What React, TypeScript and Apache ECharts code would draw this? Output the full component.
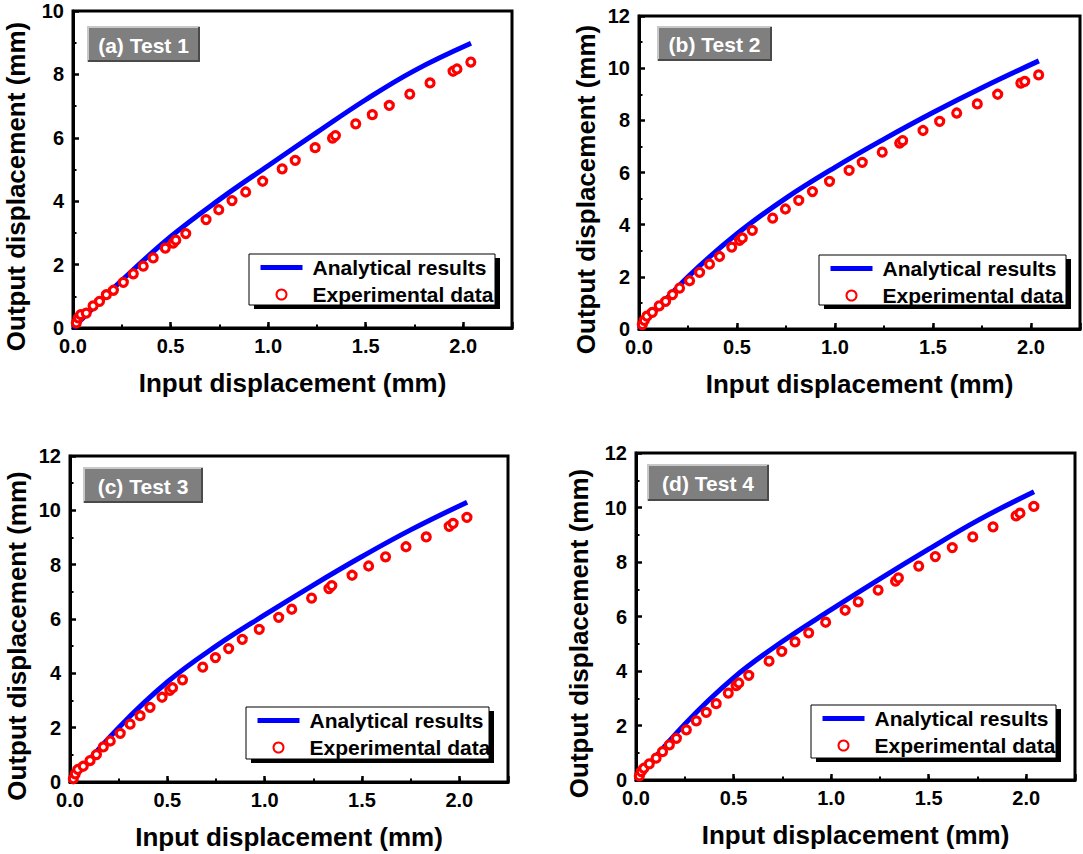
import React, { useEffect, useRef } from 'react';
import * as echarts from 'echarts';

// Input displacement of the experimental points (mm), shared by the four tests
const inputDisp = [0.017, 0.027, 0.04, 0.068, 0.103, 0.136, 0.171, 0.207, 0.258, 0.309, 0.36, 0.411, 0.473, 0.513, 0.527, 0.578, 0.682, 0.747, 0.815, 0.885, 0.972, 1.072, 1.139, 1.241, 1.33, 1.345, 1.449, 1.534, 1.621, 1.726, 1.83, 1.948, 1.968, 2.039];

// Experimental output displacement (mm)
const expTest1 = [0.16, 0.32, 0.42, 0.47, 0.70, 0.84, 1.05, 1.19, 1.44, 1.71, 1.95, 2.21, 2.52, 2.68, 2.77, 2.98, 3.42, 3.73, 4.02, 4.29, 4.63, 5.02, 5.29, 5.69, 5.99, 6.07, 6.44, 6.73, 7.02, 7.38, 7.73, 8.10, 8.17, 8.39];
const expTest2 = [0.17, 0.33, 0.49, 0.64, 0.89, 1.06, 1.32, 1.57, 1.85, 2.17, 2.49, 2.78, 3.14, 3.40, 3.49, 3.78, 4.25, 4.60, 4.93, 5.27, 5.66, 6.08, 6.39, 6.78, 7.13, 7.22, 7.61, 7.96, 8.28, 8.63, 9.00, 9.43, 9.49, 9.74];
const expTest3 = [0.12, 0.30, 0.46, 0.58, 0.79, 1.01, 1.29, 1.51, 1.79, 2.13, 2.44, 2.75, 3.12, 3.37, 3.47, 3.76, 4.23, 4.58, 4.91, 5.25, 5.62, 6.06, 6.36, 6.77, 7.12, 7.23, 7.61, 7.95, 8.29, 8.66, 9.02, 9.41, 9.52, 9.74];
const expTest4 = [0.15, 0.31, 0.43, 0.59, 0.80, 1.04, 1.29, 1.53, 1.84, 2.17, 2.48, 2.80, 3.19, 3.46, 3.56, 3.84, 4.36, 4.72, 5.07, 5.40, 5.79, 6.23, 6.54, 6.97, 7.30, 7.42, 7.85, 8.20, 8.53, 8.92, 9.29, 9.69, 9.79, 10.04];

// Analytical curve (mm)
const modelX = [0, 0.25, 0.5, 0.75, 1.0, 1.25, 1.5, 1.75, 2.04];
const modelTest1 = [0, 1.5, 2.88, 4.05, 5.12, 6.17, 7.2, 8.12, 8.98];
const modelTest2 = [0, 2.0, 3.65, 5.02, 6.2, 7.28, 8.3, 9.25, 10.28];
const modelTest3 = [0, 2.0, 3.68, 5.0, 6.15, 7.25, 8.3, 9.28, 10.3];
const modelTest4 = [0, 2.05, 3.75, 5.08, 6.25, 7.38, 8.47, 9.52, 10.58];

const panelTitles = ['(a) Test 1', '(b) Test 2', '(c) Test 3', '(d) Test 4'];
const yMaxes = [10, 12, 12, 12];
const xMax = 2.25;
const seriesNames = ['Analytical results', 'Experimental data'];
const xName = 'Input displacement (mm)';
const yName = 'Output displacement (mm)';

const expSets = [expTest1, expTest2, expTest3, expTest4];
const modelSets = [modelTest1, modelTest2, modelTest3, modelTest4];

const FONT = '"Liberation Sans", Arial, Helvetica, sans-serif';

// layout (pixels)
const grids = [
  { left: 73, top: 11, width: 439, height: 317, yNameGap: 44 },
  { left: 639, top: 16, width: 442, height: 313, yNameGap: 40 },
  { left: 70, top: 456, width: 438, height: 326, yNameGap: 40 },
  { left: 636, top: 453, width: 439, height: 327, yNameGap: 44 },
];
const labelBoxes = [
  { x: 87, y: 26, w: 113, h: 36 },
  { x: 657, y: 26, w: 115, h: 35 },
  { x: 83, y: 467, w: 120, h: 36 },
  { x: 647, y: 464, w: 122, h: 37 },
];
const legendBoxes = [
  { x: 249, y: 254, w: 246, h: 51 },
  { x: 819, y: 255, w: 247, h: 50 },
  { x: 246, y: 707, w: 243, h: 52 },
  { x: 811, y: 705, w: 245, h: 53 },
];

function buildOption() {
  const xAxis: any[] = [];
  const yAxis: any[] = [];
  const series: any[] = [];
  const legend: any[] = [];
  const graphic: any[] = [];

  grids.forEach((g, i) => {
    xAxis.push({
      gridIndex: i,
      type: 'value',
      min: 0,
      max: xMax,
      interval: 0.5,
      name: xName,
      nameLocation: 'middle',
      nameGap: 42,
      nameTextStyle: { fontSize: 26, fontWeight: 'bold', color: '#000', fontFamily: FONT },
      axisLine: { show: true, lineStyle: { color: '#000', width: 3 } },
      axisTick: { show: true, inside: true, length: 6, lineStyle: { color: '#000', width: 2.5 } },
      axisLabel: {
        fontSize: 20, fontWeight: 'bold', color: '#000', fontFamily: FONT, margin: 8,
        formatter: (v: number) => (Math.abs(v * 2 - Math.round(v * 2)) < 1e-6 ? v.toFixed(1) : ''),
      },
      splitLine: { show: false },
    });
    xAxis.push({
      gridIndex: i,
      type: 'value',
      position: 'bottom',
      min: 0,
      max: xMax,
      interval: 0.25,
      axisLine: { show: false },
      axisTick: { show: true, inside: true, length: 3.5, lineStyle: { color: '#000', width: 2 } },
      axisLabel: { show: false },
      splitLine: { show: false },
    });
    yAxis.push({
      gridIndex: i,
      type: 'value',
      min: 0,
      max: yMaxes[i],
      interval: 2,
      name: yName,
      nameLocation: 'middle',
      nameGap: g.yNameGap,
      nameTextStyle: { fontSize: 26, fontWeight: 'bold', color: '#000', fontFamily: FONT, padding: [0, 34, 0, 0] },
      axisLine: { show: true, lineStyle: { color: '#000', width: 3 } },
      axisTick: { show: true, inside: true, length: 6, lineStyle: { color: '#000', width: 2.5 } },
      minorTick: { show: true, splitNumber: 2, length: 3.5, lineStyle: { color: '#000', width: 2 } },
      axisLabel: { fontSize: 20, fontWeight: 'bold', color: '#000', fontFamily: FONT, margin: 9 },
      splitLine: { show: false },
    });

    series.push({
      type: 'line',
      name: seriesNames[0],
      xAxisIndex: 2 * i,
      yAxisIndex: i,
      data: modelX.map((x, k) => [x, modelSets[i][k]]),
      smooth: 0.4,
      symbol: 'none',
      showSymbol: false,
      lineStyle: { color: '#0000ff', width: 5 },
      itemStyle: { color: '#0000ff' },
      z: 2,
    });
    series.push({
      type: 'scatter',
      name: seriesNames[1],
      xAxisIndex: 2 * i,
      yAxisIndex: i,
      data: inputDisp.map((x, k) => [x, expSets[i][k]]),
      symbol: 'circle',
      symbolSize: 8,
      itemStyle: { color: '#ffffff', borderColor: '#ff0000', borderWidth: 3.2, opacity: 1 },
      z: 3,
    });

    const lb = legendBoxes[i];
    legend.push({
      left: lb.x + 9,
      top: lb.y + 3,
      orient: 'vertical',
      padding: 0,
      itemGap: 6,
      itemWidth: 42,
      itemHeight: 10,
      data: [
        { name: seriesNames[0], itemStyle: { opacity: 0 }, lineStyle: { width: 5, color: '#0000ff' } },
        { name: seriesNames[1] },
      ],
      selectedMode: false,
      textStyle: { fontSize: 21, fontWeight: 'bold', color: '#000', fontFamily: FONT, padding: [0, 0, 0, 5] },
      z: 5,
    });

    graphic.push({
      type: 'rect', z: 3,
      shape: { x: lb.x + 5, y: lb.y + 4, width: lb.w, height: lb.h },
      style: { fill: '#000' },
    });
    graphic.push({
      type: 'rect', z: 3,
      shape: { x: lb.x, y: lb.y, width: lb.w, height: lb.h },
      style: { fill: '#fff', stroke: '#000', lineWidth: 1 },
    });

    const b = labelBoxes[i];
    graphic.push({
      type: 'rect', z: 4,
      shape: { x: b.x, y: b.y, width: b.w, height: b.h },
      style: { fill: '#7f7f7f' },
    });
    graphic.push({
      type: 'polyline', z: 4,
      shape: { points: [[b.x + 1, b.y + b.h], [b.x + 1, b.y + 1], [b.x + b.w, b.y + 1]] },
      style: { stroke: '#c8c8c8', lineWidth: 2, fill: null },
    });
    graphic.push({
      type: 'polyline', z: 4,
      shape: { points: [[b.x + 1, b.y + b.h - 1], [b.x + b.w - 1, b.y + b.h - 1], [b.x + b.w - 1, b.y + 1]] },
      style: { stroke: '#4a4a4a', lineWidth: 2, fill: null },
    });
    graphic.push({
      type: 'text', z: 5,
      x: b.x + b.w / 2,
      y: b.y + b.h / 2 + 1,
      style: {
        text: panelTitles[i],
        fill: '#ffffff',
        fontSize: 21,
        fontWeight: 'bold',
        fontFamily: FONT,
        align: 'center',
        verticalAlign: 'middle',
      },
    });
  });

  return {
    animation: false,
    backgroundColor: '#ffffff',
    grid: grids.map((g) => ({
      left: g.left, top: g.top, width: g.width, height: g.height,
      show: true, borderColor: '#000', borderWidth: 3, backgroundColor: 'transparent',
      containLabel: false,
    })),
    xAxis,
    yAxis,
    series,
    legend,
    graphic,
  };
}

export default function App() {
  const ref = useRef<HTMLDivElement>(null);
  useEffect(() => {
    if (!ref.current) return;
    const chart = echarts.init(ref.current, null, { renderer: 'svg' });
    chart.setOption(buildOption() as any);
    return () => chart.dispose();
  }, []);
  return (
    <div
      ref={ref}
      style={{ position: 'absolute', left: 0, top: 0, width: 1083, height: 854, background: '#fff' }}
    />
  );
}
